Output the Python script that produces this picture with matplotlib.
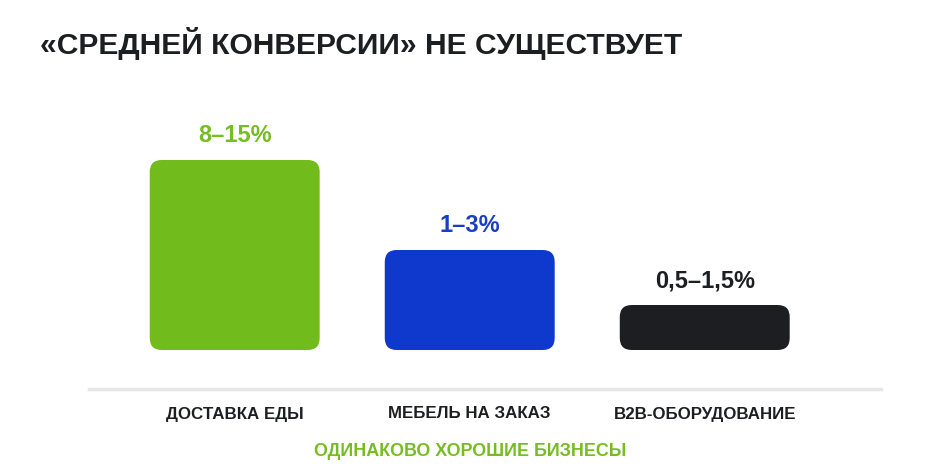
import matplotlib
matplotlib.use('Agg')
import matplotlib.pyplot as plt
from matplotlib.patches import FancyBboxPatch
import numpy as np

plt.rcParams['font.family'] = ['Liberation Sans', 'DejaVu Sans']

# data
categories = ['ДОСТАВКА ЕДЫ', 'МЕБЕЛЬ НА ЗАКАЗ', 'B2B-ОБОРУДОВАНИЕ']
value_labels = ['8–15%', '1–3%', '0,5–1,5%']
bar_heights = [190, 100, 45]  # visual bar heights, arbitrary units
bar_colors = ['#72BB1C', '#0F38CC', '#1C1E22']
label_colors = ['#76BC23', '#1A3EC2', '#1C1E22']

title = '«СРЕДНЕЙ КОНВЕРСИИ» НЕ СУЩЕСТВУЕТ'
footer = 'ОДИНАКОВО ХОРОШИЕ БИЗНЕСЫ'

W, H = 940, 470
fig = plt.figure(figsize=(W / 100, H / 100), dpi=100)
fig.patch.set_facecolor('white')

# axes box in pixel terms: x 89..881, y 110..389 (from top)
ax = fig.add_axes([89 / W, (H - 389) / H, (881 - 89) / W, (389 - 110) / H])
ax.set_xlim(-0.62, 2.75)
ax.set_ylim(-39, 240)
ax.axis('off')

x = np.arange(len(categories))
width = 0.723
px_per_x = (881 - 89) / (2.75 + 0.62)
ax.axhline(-39, color='#E4E6E8', lw=2.5, clip_on=False)

for xi, h, c, lab, lc in zip(x, bar_heights, bar_colors, value_labels, label_colors):
    r = 12 / px_per_x
    box = FancyBboxPatch((xi - width / 2 + r, r * px_per_x), width - 2 * r, h - 2 * r * px_per_x,
                         boxstyle='round,pad={},rounding_size={}'.format(r, r),
                         mutation_aspect=px_per_x, fc=c, ec='none')
    ax.add_patch(box)
    ax.annotate(lab, (xi, h), xytext=(0, 17.5), textcoords='offset points',
                ha='center', va='center', fontsize=17, fontweight='bold', color=lc)

for xi, cat in zip(x, categories):
    ax.annotate(cat, (xi, -39), xytext=(0, -18), textcoords='offset points',
                ha='center', va='center', fontsize=12.2, fontweight='bold', color='#1C1E22')

fig.text(40 / W, 1 - 43 / H, title, ha='left', va='center', fontsize=21.6,
         fontweight='bold', color='#1C1E22')
fig.text(470 / W, 1 - 452 / H, footer, ha='center', va='center', fontsize=12.9,
         fontweight='bold', color='#76BC23')

fig.savefig('out.png', dpi=100)
